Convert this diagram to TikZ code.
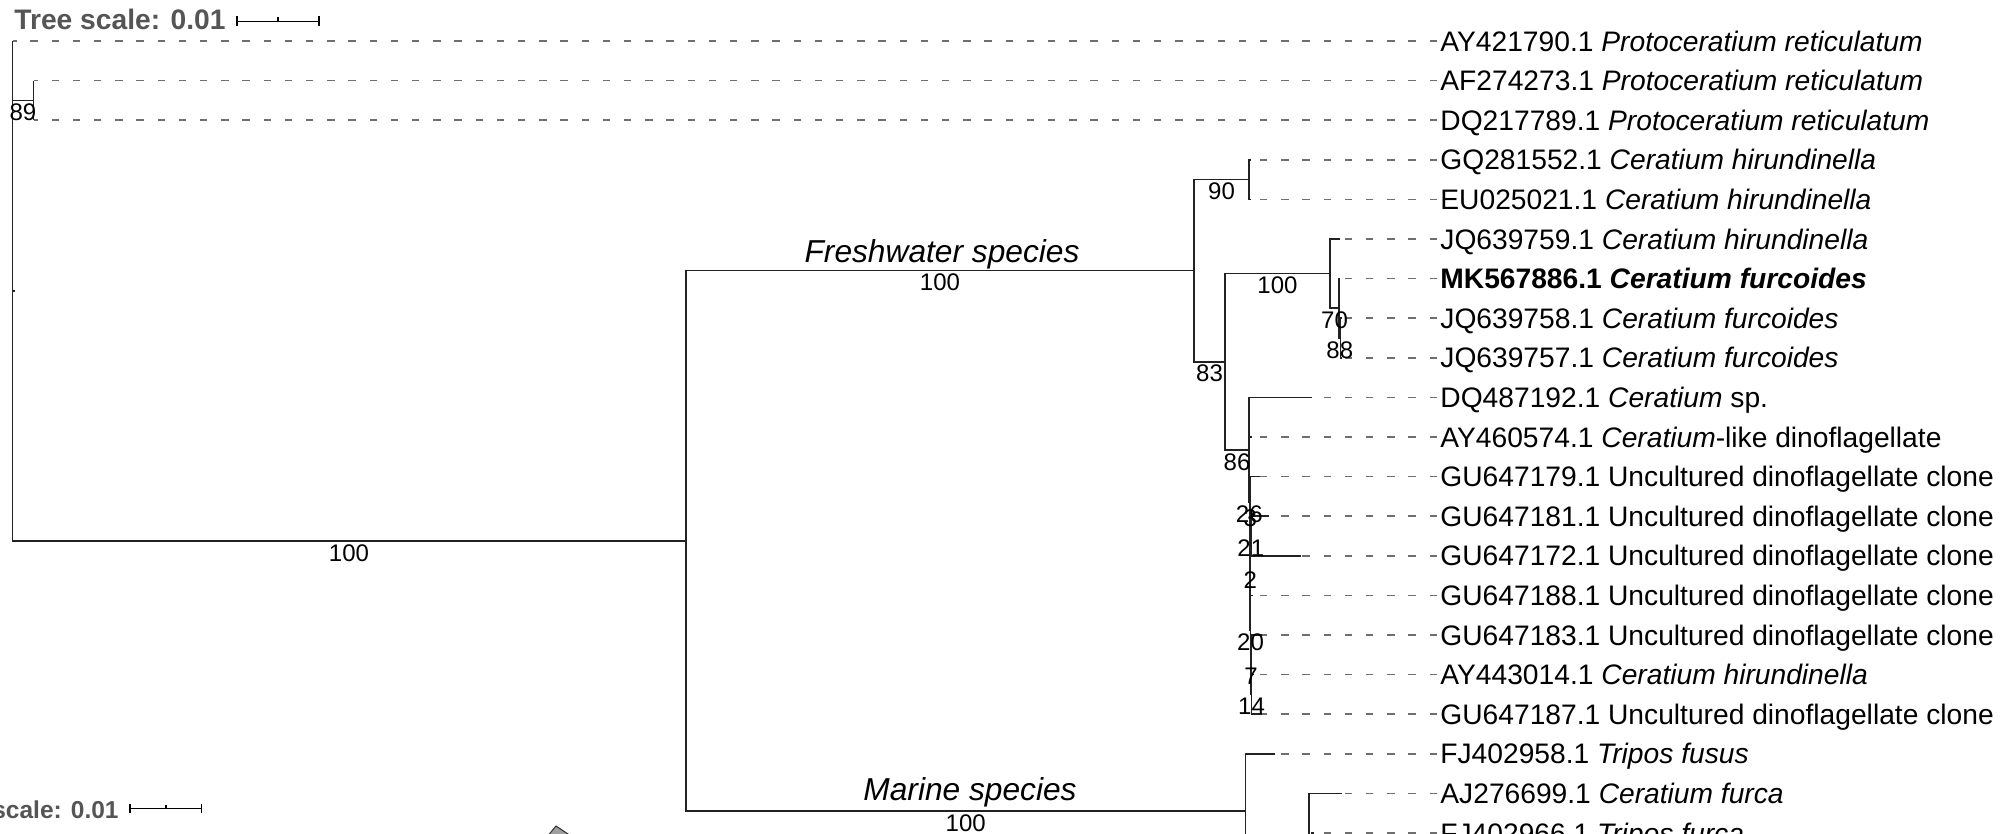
\documentclass[tikz,border=0pt]{standalone}
\usepackage{fontspec}
\setmainfont[Ligatures=CommonOff]{Liberation Sans}
\usetikzlibrary{calc}
\definecolor{treeline}{HTML}{222222}
\definecolor{dashgray}{HTML}{6E6E6E}
\definecolor{scalegray}{HTML}{555555}
\begin{document}
\begin{tikzpicture}[x=0.5pt,y=-0.5pt,
  br/.style={draw=treeline, line width=0.8pt},
  leafdash/.style={draw=dashgray, line width=0.75pt, dash pattern=on 3.7pt off 6.9pt},
  leaf/.style={anchor=west, inner xsep=1.5pt, inner ysep=0pt, text height=10.1pt, text depth=0pt, font=\fontsize{14.1pt}{16pt}\selectfont},
  bs/.style={anchor=north, inner sep=0pt, font=\fontsize{12pt}{14pt}\selectfont},
  clade/.style={anchor=base, inner sep=0pt, font=\fontsize{15.85pt}{18pt}\selectfont\itshape},
  scaletext/.style={inner sep=0pt, text=scalegray, font=\fontsize{14.1pt}{16pt}\selectfont\bfseries},
  scalebar/.style={draw=black, line width=0.75pt},
  collapsed/.style={fill=gray!75, draw=black!80, line width=0.5pt}
]
\useasboundingbox (0,0) rectangle (2004,834);
\clip (0,0) rectangle (2004,834);

% ---------- internal nodes ----------
\coordinate (R) at (12.5,291);
\coordinate (N89) at (33.5,100.4);
\coordinate (A) at (686,540.9);
\coordinate (B) at (1194,270.7);
\coordinate (M) at (1245.5,811);
\coordinate (N90) at (1249,179.6);
\coordinate (C) at (1225,361.8);
\coordinate (D) at (1330,273.65);
\coordinate (F) at (1339,308.3);
\coordinate (G) at (1340.5,338);
\coordinate (E) at (1249,450);
\coordinate (N26) at (1249.5,502.6);
\coordinate (N2) at (1250,568.2);
\coordinate (N3) at (1250.5,506.3);
\coordinate (N21) at (1251,536);
\coordinate (N20) at (1250.5,630.05);
\coordinate (N7) at (1251,664.7);
\coordinate (N14) at (1251.5,694.4);
\coordinate (X) at (1309,868.2);
\coordinate (Y) at (1312,943);

% ---------- tips ----------
\coordinate (t0) at (12.5,41);
\coordinate (t1) at (33.5,80.6);
\coordinate (t2) at (33.5,120.2);
\coordinate (t3) at (1251,159.8);
\coordinate (t4) at (1251,199.4);
\coordinate (t5) at (1340,239);
\coordinate (t6) at (1340,278.6);
\coordinate (t7) at (1341.5,318.2);
\coordinate (t8) at (1341.5,357.8);
\coordinate (t9) at (1311.7,397.4);
\coordinate (t10) at (1252,437);
\coordinate (t11) at (1259.5,476.6);
\coordinate (t12) at (1269,516.2);
\coordinate (t13) at (1301,555.8);
\coordinate (t14) at (1253,595.4);
\coordinate (t15) at (1262,635);
\coordinate (t16) at (1254,674.6);
\coordinate (t17) at (1262,714.2);
\coordinate (t18) at (1274.5,753.8);
\coordinate (t19) at (1341.5,793.4);
\coordinate (t20) at (1314,833);

% ---------- leaf labels ----------
\node[leaf] (l0) at (1437,41) {AY421790.1 \textit{Protoceratium reticulatum}};
\node[leaf] (l1) at (1437,80.6) {AF274273.1 \textit{Protoceratium reticulatum}};
\node[leaf] (l2) at (1437,120.2) {DQ217789.1 \textit{Protoceratium reticulatum}};
\node[leaf] (l3) at (1437,159.8) {GQ281552.1 \textit{Ceratium hirundinella}};
\node[leaf] (l4) at (1437,199.4) {EU025021.1 \textit{Ceratium hirundinella}};
\node[leaf] (l5) at (1437,239) {JQ639759.1 \textit{Ceratium hirundinella}};
\node[leaf] (l6) at (1437,278.6) {\textbf{MK567886.1 \textit{Ceratium furcoides}}};
\node[leaf] (l7) at (1437,318.2) {JQ639758.1 \textit{Ceratium furcoides}};
\node[leaf] (l8) at (1437,357.8) {JQ639757.1 \textit{Ceratium furcoides}};
\node[leaf] (l9) at (1437,397.4) {DQ487192.1 \textit{Ceratium} sp.};
\node[leaf] (l10) at (1437,437) {AY460574.1 \textit{Ceratium}-like dinoflagellate};
\node[leaf] (l11) at (1437,476.6) {GU647179.1 Uncultured dinoflagellate clone};
\node[leaf] (l12) at (1437,516.2) {GU647181.1 Uncultured dinoflagellate clone};
\node[leaf] (l13) at (1437,555.8) {GU647172.1 Uncultured dinoflagellate clone};
\node[leaf] (l14) at (1437,595.4) {GU647188.1 Uncultured dinoflagellate clone};
\node[leaf] (l15) at (1437,635) {GU647183.1 Uncultured dinoflagellate clone};
\node[leaf] (l16) at (1437,674.6) {AY443014.1 \textit{Ceratium hirundinella}};
\node[leaf] (l17) at (1437,714.2) {GU647187.1 Uncultured dinoflagellate clone};
\node[leaf] (l18) at (1437,753.8) {FJ402958.1 \textit{Tripos fusus}};
\node[leaf] (l19) at (1437,793.4) {AJ276699.1 \textit{Ceratium furca}};
\node[leaf] (l20) at (1437,833) {FJ402966.1 \textit{Tripos furca}};

% ---------- dashed leaf extensions ----------
\foreach \i in {0,...,20}{\draw[leafdash] (l\i.west) -- (t\i);}

% ---------- branches ----------
\draw[br] (t0) -| (R) |- (A);
\draw[br] (R) |- (N89);
\draw[br] (R) -- ++(2.5,0);
\draw[br] (t1) -| (N89) |- (t2);
\draw[br] (B) -| (A) |- (M);
\draw[br] (N90) -| (B) |- (C);
\draw[br] (t3) -| (N90) |- (t4);
\draw[br] (D) -| (C) |- (E);
\draw[br] (t5) -| (D) |- (F);
\draw[br] (t6) -| (F) |- (G);
\draw[br] (t7) -| (G) |- (t8);
\draw[br] (t9) -| (E) |- (N26);
\draw[br] (t10) -| (N26) |- (N2);
\draw[br] (N3) -| (N2) |- (N20);
\draw[br] (t11) -| (N3) |- (N21);
\draw[br] (t12) -| (N21) |- (t13);
\draw[br] (t14) -| (N20) |- (N7);
\draw[br] (t15) -| (N7) |- (N14);
\draw[br] (t16) -| (N14) |- (t17);
\draw[br] (t18) -| (M) |- (X);
\draw[br] (t19) -| (X) |- (Y);
\draw[br] (t20) -| (Y);

% ---------- bootstrap values ----------
\node[bs] (b89) at (23,103.4) {89};
\node[bs] (bA) at (349,543.9) {100};
\node[bs] (bB) at (940,273.7) {100};
\node[bs] (bM) at (965.75,814) {100};
\node[bs] (b90) at (1221.5,182.6) {90};
\node[bs] (b83) at (1209.5,364.8) {83};
\node[bs] (bD) at (1277.5,276.65) {100};
\node[bs] (b70) at (1334.5,311.3) {70};
\node[bs] (b88) at (1339.75,341) {88};
\node[bs] (b86) at (1237,453) {86};
\node[bs] (b26) at (1249.25,505.6) {26};
\node[bs] (b3) at (1250.25,509.3) {3};
\node[bs] (b21) at (1250.75,539) {21};
\node[bs] (b2) at (1250.25,571.2) {2};
\node[bs] (b20) at (1250.5,633) {20};
\node[bs] (b7) at (1251,667.7) {7};
\node[bs] (b14) at (1251.5,697.4) {14};

% ---------- clade labels ----------
\node[clade] (fw) at (942,263) {Freshwater species};
\node[clade] (ms) at (970,800) {Marine species};

% ---------- tree scale (top) ----------
\node[scaletext, anchor=base west] (ts1) at (14,29.5) {Tree scale: 0.01};
\coordinate (sb1a) at (237,21.5);
\coordinate (sb1b) at (319,21.5);
\coordinate (sb1m) at (278,21.5);
\draw[scalebar] (sb1a) -- (sb1b);
\draw[scalebar] ($(sb1a)+(0,-5)$) -- ($(sb1a)+(0,5)$);
\draw[scalebar] ($(sb1b)+(0,-5)$) -- ($(sb1b)+(0,5)$);
\draw[scalebar] (sb1m) -- ++(0,-4);

% ---------- tree scale (second tree, bottom) ----------
\node[scaletext, anchor=base east, font=\fontsize{12.25pt}{14pt}\selectfont\bfseries] (ts2) at (119,818) {scale: 0.01};
\coordinate (sb2a) at (130,808.3);
\coordinate (sb2b) at (201.5,808.3);
\coordinate (sb2m) at (166,808.3);
\draw[scalebar] (sb2a) -- (sb2b);
\draw[scalebar] ($(sb2a)+(0,-4.5)$) -- ($(sb2a)+(0,4.5)$);
\draw[scalebar] ($(sb2b)+(0,-4.5)$) -- ($(sb2b)+(0,4.5)$);
\draw[scalebar] (sb2m) -- ++(0,-3.5);

% ---------- collapsed clade of the second tree ----------
\draw[collapsed] (556,826) -- (574,838) -- (546,838) -- cycle;
\end{tikzpicture}
\end{document}
